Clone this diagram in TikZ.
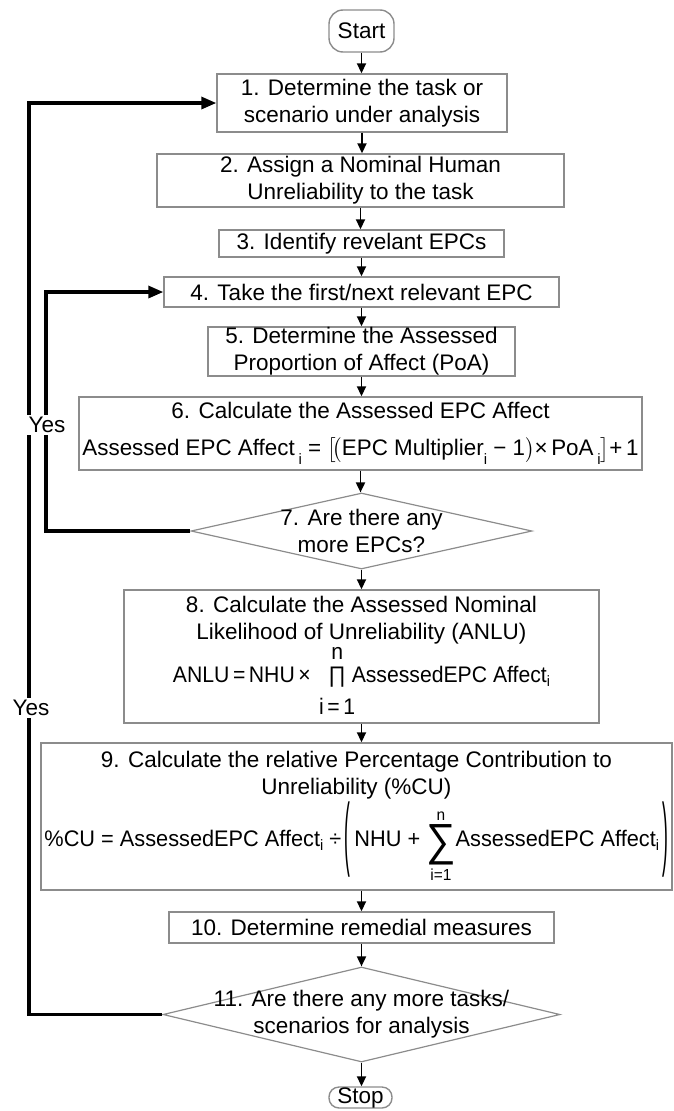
\documentclass[tikz,border=0pt]{standalone}
\usepackage{exscale}
\usepackage{fontspec}
\setmainfont{Liberation Sans}
\usepackage{graphicx}
\usetikzlibrary{arrows.meta,shapes.geometric}

% small index letter hung below the baseline
\newcommand\lowsub[2]{\raisebox{#1}{\fontsize{15}{15}\selectfont #2}}
% operator with limits set above and below, limits not widening it
\newcommand\limop[3]{\mathop{\mbox{#1}}\limits^{\mbox{\makebox[0pt]{#2}}}_{\mbox{\makebox[0pt]{#3}}}}
% tall round bracket drawn from the text font
\newcommand\tallparen[1]{\raisebox{-14pt}{\scalebox{0.8}[3.6]{#1}}}

\begin{document}
\begin{tikzpicture}[x=1pt,y=-1pt,
  every node/.style={font=\fontsize{22.5}{27}\selectfont},
  proc/.style={draw=black!45, line width=1.4pt, fill=white, inner sep=0pt, align=center},
  term/.style={proc},
  dec/.style={draw=black!45, line width=1.2pt, diamond, inner sep=0pt},
  flow/.style={draw, line width=1.8pt, -{Triangle[length=10pt,width=9pt]}},
  loopline/.style={draw, line width=3.2pt, -{Triangle[length=15pt,width=12pt]}},
  yeslabel/.style={fill=white, inner sep=2pt}]

\useasboundingbox (0,0) rectangle (673,1111);

% process boxes, top to bottom
\node[term, rounded corners=14pt, minimum width=65pt, minimum height=42pt] (start) at (361.5,31) {Start};
\node[proc, minimum width=290pt, minimum height=58pt] (b1) at (362,103)
  {1. Determine the task or\\scenario under analysis};
\node[proc, minimum width=407pt, minimum height=53pt] (b2) at (360.5,180.5)
  {2. Assign a Nominal Human\\Unreliability to the task};
\node[proc, minimum width=285pt, minimum height=27pt] (b3) at (361.5,243.5)
  {3. Identify revelant EPCs};
\node[proc, minimum width=395pt, minimum height=30pt] (b4) at (361.5,292)
  {4. Take the first/next relevant EPC};
\node[proc, minimum width=307pt, minimum height=49pt] (b5) at (361.5,351.5)
  {5. Determine the Assessed\\Proportion of Affect (PoA)};
\node[proc, minimum width=563pt, minimum height=73pt] (b6) at (360.5,433.5)
  {6. Calculate the Assessed EPC Affect\\[10pt]
   \resizebox{556pt}{\height}{Assessed EPC Affect\,\lowsub{-9pt}{i} = $\bigl[\!\bigl($EPC Multiplier\lowsub{-9pt}{i} − 1$\bigr)$×\,PoA\,\lowsub{-9pt}{i}$\bigr]$+\,1}};
\node[dec, minimum width=341pt, minimum height=76pt] (d7) at (361.5,531) {};
\node[align=center, inner sep=0pt] (t7) at (d7.center) {7. Are there any\\more EPCs?};
\node[proc, minimum width=475pt, minimum height=133pt] (b8) at (361.5,656.5)
  {8. Calculate the Assessed Nominal\\Likelihood of Unreliability (ANLU)\\
   \resizebox{377pt}{\height}{ANLU\,=\,NHU\,×\;\; $\limop{∏}{\raisebox{0pt}[\height][5pt]{n}}{\raisebox{0pt}[24pt][\depth]{i\,=\,1}}$ AssessedEPC Affect\lowsub{-4pt}{i}}};
\node[proc, minimum width=631pt, minimum height=147pt] (b9) at (356.5,816.5)
  {9. Calculate the relative Percentage Contribution to\\Unreliability (\%CU)\\[2pt]
   \resizebox{624pt}{\height}{\%CU = AssessedEPC Affect\lowsub{-4pt}{i} ÷\,\tallparen{(}\,NHU + $\limop{\raisebox{-9pt}{\scalebox{1.9}[2.0]{∑}}}{\fontsize{16}{16}\selectfont n}{\fontsize{16}{16}\selectfont i=1}$AssessedEPC Affect\lowsub{-4pt}{i}\,\tallparen{)}}};
\node[proc, minimum width=385pt, minimum height=31pt] (b10) at (361.5,927.5)
  {10. Determine remedial measures};
\node[dec, minimum width=397pt, minimum height=95pt] (d11) at (361.5,1014.5) {};
\node[align=center, inner sep=0pt] (t11) at (d11.center) {11. Are there any more tasks/\\scenarios for analysis};
\node[term, rounded corners=10pt, minimum width=63pt, minimum height=21pt] (stop) at (360.5,1097.5) {Stop};

% main flow
\draw[flow] (start.south) -- (start.south |- b1.north);
\draw[flow] (b1.south) -- (b1.south |- b2.north);
\draw[flow] (b2.south) -- (b2.south |- b3.north);
\draw[flow] (b3.south) -- (b3.south |- b4.north);
\draw[flow] (b4.south) -- (b4.south |- b5.north);
\draw[flow] (b5.south) -- (b5.south |- b6.north);
\draw[flow] (b6.south) -- (b6.south |- d7.north);
\draw[flow] (d7.south) -- (d7.south |- b8.north);
\draw[flow] (b8.south -| d7.south) -- (d7.south |- b9.north);
\draw[flow] (d7.south |- b9.south) -- (d7.south |- b10.north);
\draw[flow] (b10.south) -- (b10.south |- d11.north);
\draw[flow] (d11.south) -- (d11.south |- stop.north);

% feedback loops
\coordinate (outer) at (29,0);
\coordinate (inner) at (46,0);
\draw[loopline] (d11.west) -- (d11.west -| outer) -- (b1.west -| outer) -- (b1.west);
\draw[loopline] (d7.west) -- (d7.west -| inner) -- (b4.west -| inner) -- (b4.west);

\node[yeslabel] (yes1) at (47,425) {Yes};
\node[yeslabel] (yes2) at (31,708) {Yes};
\end{tikzpicture}
\end{document}
